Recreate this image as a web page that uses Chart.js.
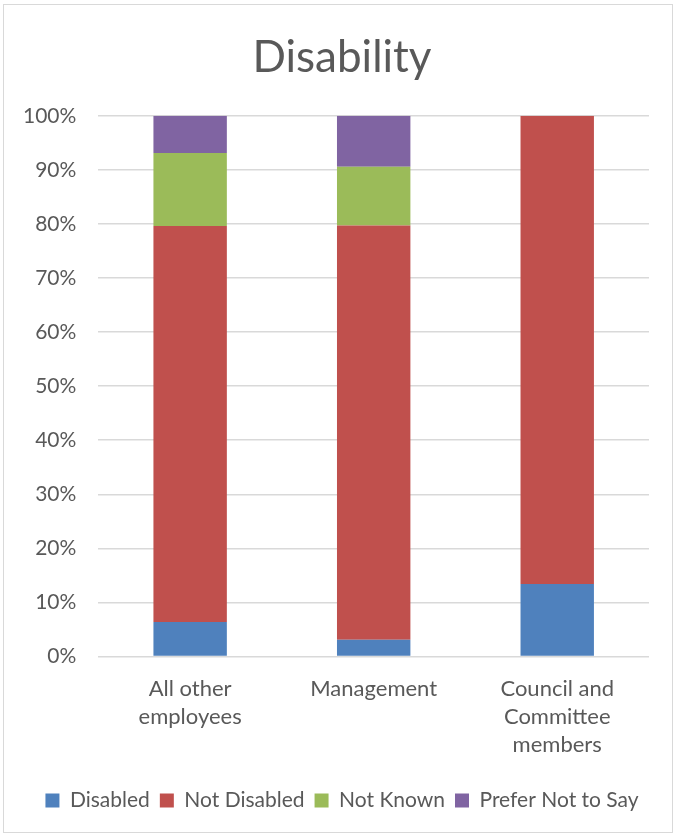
<!DOCTYPE html>
<html>
<head>
<meta charset="utf-8">
<script src="https://cdn.jsdelivr.net/npm/chart.js@4"></script>
<style>
  body { margin: 0; background: #fff; }
  #frame {
    position: absolute; left: 3px; top: 4px;
    width: 668px; height: 827px;
    border: 1px solid #d9d9d9; background: #fff;
  }
</style>
</head>
<body>
<div id="frame"><canvas id="disabilityChart" width="668" height="827"></canvas></div>
<script>
const categories = [["All other", "employees"], "Management", ["Council and", "Committee", "members"]];
const disabled = [6.4, 3.1, 13.4];
const notDisabled = [73.2, 76.6, 86.6];
const notKnown = [13.5, 10.9, 0];
const preferNotToSay = [6.9, 9.4, 0];

const textColor = "#595959";
const fontFamily = "Lato, 'Open Sans', sans-serif";

new Chart(document.getElementById("disabilityChart"), {
  type: "bar",
  data: {
    labels: categories,
    datasets: [
      { label: "Disabled", data: disabled, backgroundColor: "#4F81BD" },
      { label: "Not Disabled", data: notDisabled, backgroundColor: "#C0504D" },
      { label: "Not Known", data: notKnown, backgroundColor: "#9BBB59" },
      { label: "Prefer Not to Say", data: preferNotToSay, backgroundColor: "#8064A2" },
    ],
  },
  options: {
    responsive: false,
    animation: false,
    layout: { padding: { left: 8, right: 0, top: 18, bottom: 11 } },
    datasets: { bar: { barPercentage: 0.8, categoryPercentage: 0.5 } },
    scales: {
      x: {
        stacked: true,
        grid: { display: false },
        border: { display: false },
        ticks: {
          color: textColor,
          font: { family: fontFamily, size: 22, lineHeight: 1.28 },
          maxRotation: 0,
          padding: 10,
        },
        // extra room between the category labels and the legend
        afterFit: (scale) => {
          scale.height += 11;
        },
      },
      y: {
        stacked: true,
        min: 0,
        max: 100,
        grid: { color: "#d9d9d9", lineWidth: 1.5, drawTicks: false },
        border: { display: false },
        ticks: {
          stepSize: 10,
          color: textColor,
          padding: 22,
          font: { family: fontFamily, size: 21 },
          callback: (v) => v + "%",
        },
        afterFit: (scale) => {
          scale.width -= 11;
        },
      },
      // empty axis on the right, only there to leave a margin
      yRight: {
        position: "right",
        grid: { display: false },
        border: { display: false },
        ticks: { display: false },
        afterFit: (scale) => {
          scale.width = 23;
        },
      },
    },
    plugins: {
      title: {
        display: true,
        text: "Disability",
        color: textColor,
        font: { family: fontFamily, size: 44, weight: "normal" },
        padding: { top: 8, bottom: 32 },
      },
      legend: {
        position: "bottom",
        labels: {
          color: textColor,
          font: { family: fontFamily, size: 21 },
          boxWidth: 14,
          boxHeight: 14,
          padding: 10,
        },
      },
      tooltip: { enabled: false },
    },
  },
});
</script>
</body>
</html>
